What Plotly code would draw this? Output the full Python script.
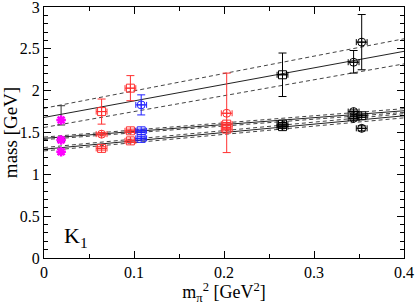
import plotly.graph_objects as go

# Fit lines: value at x=0 and at x=0.4 (centre, upper, lower)
fit_x = [0.0, 0.4]
fit1_c = [1.68, 2.47]
fit1_hi = [1.79, 2.62]
fit1_lo = [1.56, 2.32]
fit2_c = [1.43, 1.76]
fit2_hi = [1.445, 1.785]
fit2_lo = [1.415, 1.74]
fit3_c = [1.30, 1.70]
fit3_hi = [1.32, 1.725]
fit3_lo = [1.28, 1.675]

# Red data (squares)
red_sq_x = [0.064, 0.064, 0.096, 0.096, 0.096, 0.203, 0.203]
red_sq_y = [1.75, 1.31, 2.03, 1.52, 1.40, 1.60, 1.54]
red_sq_e = [0.15, 0.02, 0.15, 0.02, 0.02, 0.02, 0.02]
# Red data (circles)
red_ci_x = [0.064, 0.203]
red_ci_y = [1.48, 1.73]
red_ci_eup = [0.02, 0.48]
red_ci_edn = [0.02, 0.47]

# Blue data
blue_sq_x = [0.108, 0.108]
blue_sq_y = [1.52, 1.43]
blue_ci_x = [0.108]
blue_ci_y = [1.83]
blue_ci_e = [0.12]

# Black data
blk_sq_x = [0.265, 0.265, 0.265, 0.353]
blk_sq_y = [2.19, 1.60, 1.57, 1.70]
blk_sq_e = [0.26, 0.02, 0.02, 0.02]
blk_ci_x = [0.344, 0.344, 0.344, 0.353, 0.353]
blk_ci_y = [2.34, 1.75, 1.67, 2.58, 1.55]
blk_ci_eup = [0.14, 0.02, 0.02, 0.33, 0.03]
blk_ci_edn = [0.13, 0.02, 0.02, 0.33, 0.03]

# Chiral extrapolations (magenta)
mag_x = [0.019, 0.019, 0.019]
mag_y = [1.65, 1.41, 1.27]
mag_eup = [0.17, 0.02, 0.03]
mag_edn = [0.06, 0.02, 0.03]

fig = go.Figure()

gray = "#444444"
for c, hi, lo in [(fit1_c, fit1_hi, fit1_lo), (fit2_c, fit2_hi, fit2_lo), (fit3_c, fit3_hi, fit3_lo)]:
    fig.add_trace(go.Scatter(x=fit_x, y=c, mode="lines", line=dict(color="#222222", width=1), showlegend=False))
    for b in (hi, lo):
        fig.add_trace(go.Scatter(x=fit_x, y=b, mode="lines",
                                 line=dict(color=gray, width=1, dash="4px,3px"), showlegend=False))

def pts(x, y, eup, edn, color, symbol, size=8):
    fig.add_trace(go.Scatter(
        x=x, y=y, mode="markers",
        marker=dict(symbol=symbol, size=size, color=color, line=dict(color=color, width=1)),
        error_y=dict(type="data", array=eup, arrayminus=edn, color=color, thickness=1, width=4),
        error_x=dict(type="constant", value=0.006, color=color, thickness=1, width=3),
        showlegend=False))

red = "#ff3030"
blue = "#2020ff"
pts(red_sq_x, red_sq_y, red_sq_e, red_sq_e, red, "square-cross-open")
pts(red_ci_x, red_ci_y, red_ci_eup, red_ci_edn, red, "circle-cross-open")
pts(blue_sq_x, blue_sq_y, [0.02, 0.02], [0.02, 0.02], blue, "square-cross-open")
pts(blue_ci_x, blue_ci_y, blue_ci_e, blue_ci_e, blue, "circle-cross-open")
pts(blk_sq_x, blk_sq_y, blk_sq_e, blk_sq_e, "black", "square-cross-open")
pts(blk_ci_x, blk_ci_y, blk_ci_eup, blk_ci_edn, "black", "circle-cross-open")

fig.add_trace(go.Scatter(
    x=mag_x, y=mag_y, mode="markers",
    marker=dict(symbol="asterisk-open", size=8, color="#ff00ff", line=dict(color="#ff00ff", width=2.5)),
    error_y=dict(type="data", array=mag_eup, arrayminus=mag_edn, color="#333333", thickness=1, width=4),
    showlegend=False))

font = "Liberation Serif, Times New Roman, serif"
axis_common = dict(
    showline=True, linecolor="black", linewidth=1, mirror="ticks",
    ticks="inside", ticklen=7, tickcolor="black", showgrid=False, zeroline=False,
    automargin=False, ticklabeloverflow="allow",
    tickfont=dict(family=font, size=16, color="black"),
)
fig.update_layout(
    width=415, height=305,
    margin=dict(l=44, r=11, t=7, b=47),
    paper_bgcolor="white", plot_bgcolor="white",
    xaxis=dict(range=[0, 0.4], tickvals=[0, 0.1, 0.2, 0.3, 0.4], ticktext=["0", "0.1", "0.2", "0.3", "0.4"],
               minor=dict(dtick=0.05, ticks="inside", ticklen=4, tickcolor="black"),
               title=dict(text="m<sub>π</sub><sup>2</sup> [GeV<sup>2</sup>]", font=dict(family=font, size=18, color="black"), standoff=0),
               **axis_common),
    yaxis=dict(range=[0, 3], tickvals=[0, 0.5, 1, 1.5, 2, 2.5, 3], ticktext=["0", "0.5", "1", "1.5", "2", "2.5", "3"],
               minor=dict(dtick=0.1, ticks="inside", ticklen=4, tickcolor="black"),
               title=dict(text="mass [GeV]", font=dict(family=font, size=19, color="black"), standoff=2),
               **axis_common),
    annotations=[dict(x=0.02, y=0.25, xref="x", yref="y", text="K<sub>1</sub>", showarrow=False,
                      xanchor="left", yanchor="middle", font=dict(family=font, size=22, color="black"))],
)

fig.write_html("out.html", config={"displayModeBar": False},
               post_script="document.body.style.margin='0';document.body.style.overflow='hidden';")
